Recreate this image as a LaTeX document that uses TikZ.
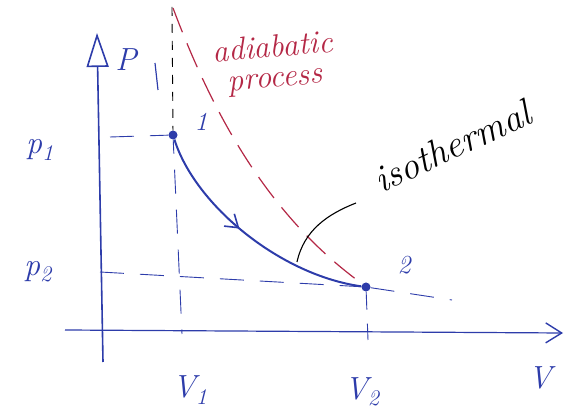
\documentclass[tikz,border=0pt]{standalone}
\usepackage{fontspec}
\usetikzlibrary{arrows.meta, positioning, calc, decorations.markings}
\definecolor{inkblue}{RGB}{45,60,170}
\definecolor{inkred}{RGB}{180,40,70}
\newcommand{\sub}[1]{\textsubscript{#1}}

\begin{document}
\begin{tikzpicture}[
x=1pt, y=-1pt,
axis/.style={inkblue, line width=1.6pt},
guide/.style={inkblue, line width=0.9pt, dash pattern=on 24pt off 16pt},
vdash/.style={black, line width=0.9pt, dash pattern=on 9pt off 8pt},
adiab/.style={inkred, line width=1.2pt, dash pattern=on 26pt off 12pt},
isoline/.style={inkblue, line width=2pt},
leader/.style={black, line width=1.1pt},
state/.style={circle, fill=inkblue, inner sep=0pt, minimum size=9pt},
lbl/.style={inkblue, font=\fontsize{32}{36}\selectfont\itshape},
num/.style={inkblue, font=\fontsize{26}{30}\selectfont\itshape}
]
\useasboundingbox (0,0) rectangle (568,419);

% states of the gas
\node[state] (s1) at (173,135) {};
\node[state] (s2) at (366,287) {};
\node[num] (n1) at (201,122) {1};
\node[num] (n2) at (404,265) {2};

% axes
\coordinate (pbot) at (103,362);
\coordinate (ptop) at (97,33);
\coordinate (vleft) at (65,330);
\coordinate (vright) at (563,333);
\draw[axis, -{Triangle[open, length=34pt, width=22pt, line width=1.6pt]}] (pbot) -- (ptop);
\draw[axis, line width=1.2pt, -{Straight Barb[length=16pt, width=20pt, line width=1.4pt]}] (vleft) -- (vright);

\node[lbl] (plab) at (126,60) {P};
\node[lbl] (p1lab) at (40,150) {p\sub{1}};
\node[lbl] (p2lab) at (38,272) {p\sub{2}};
\node[lbl] (v1lab) at (190,390) {V\sub{1}};
\node[lbl] (v2lab) at (362,392) {V\sub{2}};
\node[lbl] (vlab) at (540,378) {V};

% guide lines
\coordinate (p1axis) at (110,137);
\coordinate (v1axis) at (182,334);
\coordinate (p2axis) at (100,272);
\coordinate (p2end) at (452,300);
\coordinate (v2axis) at (368,340);
\coordinate (vtop) at (172,7);
\draw[guide] (p1axis) -- (s1);
\draw[guide, dash phase=10pt] (s1) -- (v1axis);
\draw[guide] (p2axis) -- (s2) -- (p2end);
\draw[guide, dash pattern=on 18pt off 14pt] (s2) -- (v2axis);
\draw[vdash] (vtop) -- (s1);
\coordinate (tka) at (155,63);
\coordinate (tkb) at (158,90);
\draw[inkblue, line width=1.2pt] (tka) -- (tkb);

% adiabatic
\coordinate (atop) at (173,8);
\coordinate (aend) at (357,280);
\draw[adiab] (atop) .. controls (215,120) and (270,215) .. (aend);
\node[inkred, align=center, rotate=5, font=\fontsize{32}{30}\selectfont\itshape] (adlab) at (274,64) {adiabatic\\process};

% isotherm
\draw[isoline, postaction={decorate}, decoration={markings,
  mark=at position 0.45 with {\arrow{Straight Barb[length=12pt, width=16pt, line width=1.6pt]}}}]
  (s1) .. controls (195,205) and (280,275) .. (s2);
\node[black, rotate=25, font=\fontsize{38}{40}\selectfont\itshape] (isolab) at (452,146) {isothermal};
\coordinate (lfoot) at (297,262);
\coordinate (lhead) at (356,203);
\draw[leader] (lfoot) .. controls (304,230) and (328,214) .. (lhead);

\end{tikzpicture}
\end{document}
